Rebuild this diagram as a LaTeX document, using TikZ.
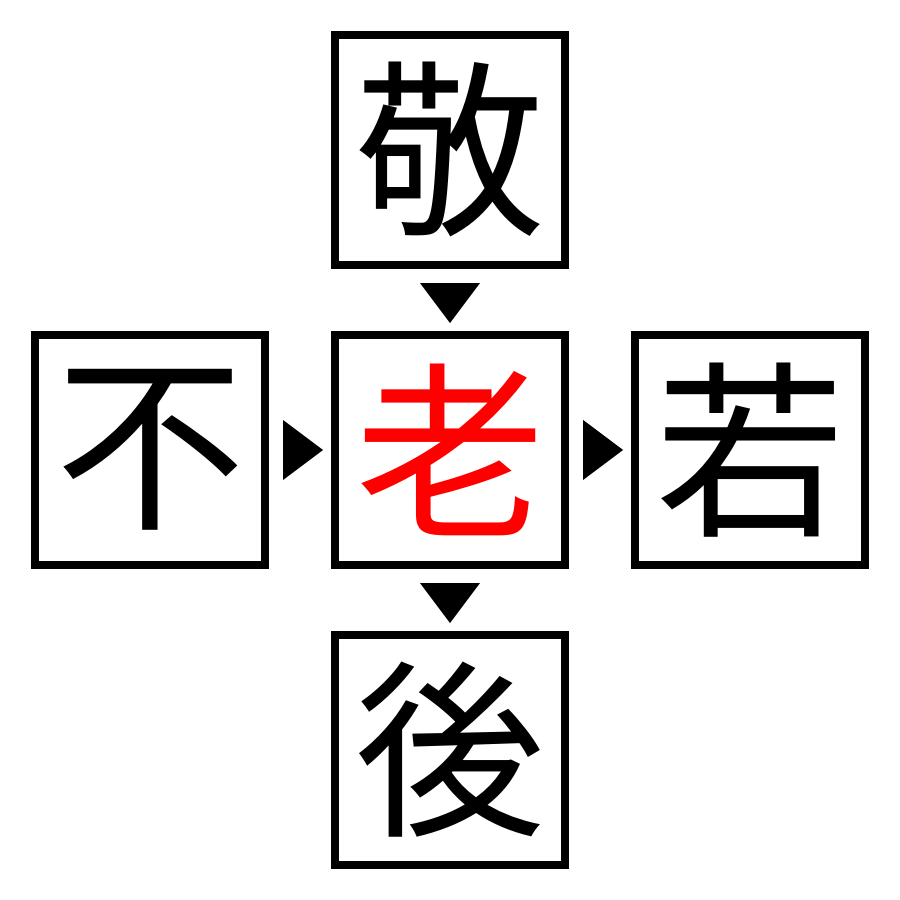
\documentclass[tikz,border=0pt]{standalone}
\usepackage{fontspec}
\newfontfamily\cjk{Noto Sans CJK JP}
\usetikzlibrary{calc}

\begin{document}
\begin{tikzpicture}[x=0.01cm,y=0.01cm]
      \tikzset{kanji box/.style={draw=black,
          line width=0.08cm,
          minimum size=2.30cm,
          inner sep=0pt,
          font=\cjk\fontsize{54}{54}\selectfont,
          text=#1},
        kanji box/.default=black
      }
      \useasboundingbox [fill=white] (0,0) rectangle (900,900);
      \node [kanji box] (top) at (450,750) {敬};
      \node [kanji box] (left) at (150,450) {不};
      \node [kanji box=red] (mid) at (450,450) {老};
      \node [kanji box] (right) at (750,450) {若};
      \node [kanji box] (bottom) at (450,150) {後};
      % markers between the boxes
      \fill ($(top.south)+(-30,-14)$) -- ($(top.south)+(30,-14)$) -- ($(top.south)+(0,-54)$) -- cycle;
      \fill ($(mid.south)+(-30,-14)$) -- ($(mid.south)+(30,-14)$) -- ($(mid.south)+(0,-54)$) -- cycle;
      \fill ($(left.east)+(14,30)$) -- ($(left.east)+(14,-30)$) -- ($(left.east)+(54,0)$) -- cycle;
      \fill ($(mid.east)+(14,30)$) -- ($(mid.east)+(14,-30)$) -- ($(mid.east)+(54,0)$) -- cycle;
    \end{tikzpicture}
\end{document}
